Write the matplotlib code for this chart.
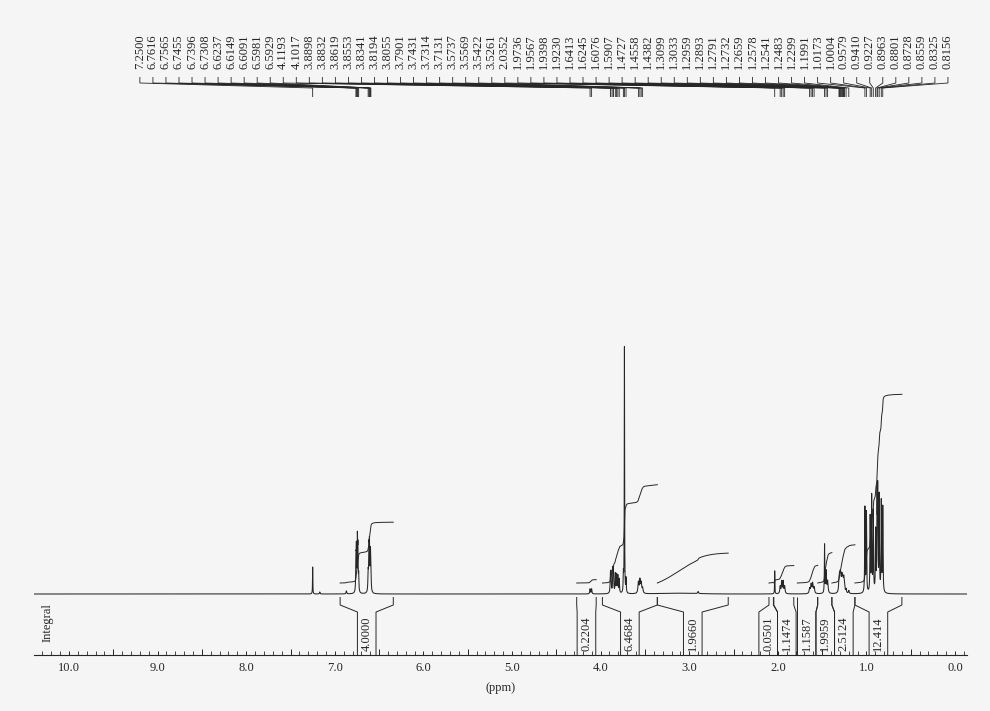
import numpy as np
import matplotlib
matplotlib.use("Agg")
import matplotlib.pyplot as plt
from matplotlib.collections import LineCollection
from matplotlib.ticker import MultipleLocator

plt.rcParams["font.family"] = ["Liberation Serif", "DejaVu Serif"]

# ---------------- 1H NMR line list (CDCl3) ----------------
# chemical shift (ppm), peak height (arb. units), half width at half height (ppm)
shift = [7.2500, 7.17, 6.87,
         6.7616, 6.7565, 6.7455, 6.7396, 6.7308,
         6.6237, 6.6149, 6.6091, 6.5981, 6.5929,
         4.1193, 4.1017,
         3.8898, 3.8832, 3.8619, 3.8553, 3.8341, 3.8194, 3.8055, 3.7901,
         3.7431, 3.7314, 3.7131,
         3.5737, 3.5569, 3.5422, 3.5261,
         2.90,
         2.0352, 1.9736, 1.9567, 1.9398, 1.9230,
         1.6413, 1.6245, 1.6076, 1.5907,
         1.4727, 1.4558, 1.4382,
         1.3099, 1.3033, 1.2959, 1.2893, 1.2791, 1.2732, 1.2659, 1.2578,
         1.2541, 1.2483, 1.2299, 1.1991,
         1.0173, 1.0004, 0.9579, 0.9410, 0.9227, 0.8963, 0.8801, 0.8728,
         0.8559, 0.8325, 0.8156]
height = [27, 2, 3,
          30, 40, 50, 40, 16,
          18, 38, 42, 36, 18,
          5, 5,
          17, 19, 22, 20, 19, 18, 17, 14,
          18, 246, 14,
          11, 13, 10, 5,
          2,
          23, 7, 12, 12, 7,
          5, 9, 10, 6,
          48, 22, 12,
          10, 12, 13, 12, 11, 10, 9, 8,
          7, 6, 4, 3,
          85, 80, 75, 95, 80, 60, 90, 95,
          95, 90, 85]
hwhm = [0.002, 0.004, 0.004,
        0.003, 0.003, 0.003, 0.003, 0.003,
        0.0035, 0.0035, 0.0035, 0.0035, 0.0035,
        0.004, 0.004,
        0.0035, 0.0035, 0.0035, 0.0035, 0.0035, 0.0035, 0.0035, 0.0035,
        0.003, 0.002, 0.003,
        0.006, 0.006, 0.006, 0.006,
        0.005,
        0.002, 0.005, 0.005, 0.005, 0.005,
        0.006, 0.006, 0.006, 0.006,
        0.0025, 0.005, 0.006,
        0.005, 0.005, 0.005, 0.005, 0.005, 0.005, 0.005, 0.005,
        0.005, 0.005, 0.005, 0.005,
        0.003, 0.003, 0.003, 0.003, 0.003, 0.003, 0.003, 0.003,
        0.003, 0.003, 0.003]

# broad exchangeable signal under 3.4-2.6 ppm
broad_center = 3.12
broad_sigma = 0.22
broad_height = 0.8

# peak-picking labels
pick_labels = ["7.2500", "6.7616", "6.7565", "6.7455", "6.7396", "6.7308",
               "6.6237", "6.6149", "6.6091", "6.5981", "6.5929", "4.1193",
               "4.1017", "3.8898", "3.8832", "3.8619", "3.8553", "3.8341",
               "3.8194", "3.8055", "3.7901", "3.7431", "3.7314", "3.7131",
               "3.5737", "3.5569", "3.5422", "3.5261", "2.0352", "1.9736",
               "1.9567", "1.9398", "1.9230", "1.6413", "1.6245", "1.6076",
               "1.5907", "1.4727", "1.4558", "1.4382", "1.3099", "1.3033",
               "1.2959", "1.2893", "1.2791", "1.2732", "1.2659", "1.2578",
               "1.2541", "1.2483", "1.2299", "1.1991", "1.0173", "1.0004",
               "0.9579", "0.9410", "0.9227", "0.8963", "0.8801", "0.8728",
               "0.8559", "0.8325", "0.8156"]

# integration regions (ppm) and values
int_start = [6.94, 4.27, 3.98, 3.36, 2.10, 2.045, 1.78, 1.55, 1.39, 1.13]
int_end = [6.34, 4.05, 3.36, 2.56, 2.05, 1.82, 1.55, 1.39, 1.13, 0.60]
int_value = [4.0000, 0.2204, 6.4684, 1.9660, 0.0501, 1.1474, 1.1587, 1.9959,
             2.5124, 12.414]
int_text = ["4.0000", "0.2204", "6.4684", "1.9660", "0.0501", "1.1474",
            "1.1587", "1.9959", "2.5124", "12.414"]

tick_values = [10.0, 9.0, 8.0, 7.0, 6.0, 5.0, 4.0, 3.0, 2.0, 1.0, 0.0]
tick_labels = ["10.0", "9.0", "8.0", "7.0", "6.0", "5.0", "4.0", "3.0",
               "2.0", "1.0", "0.0"]

# ---------------- drawing ----------------
BG = "#f5f5f5"
INK = "#262626"
FS = 9

fig = plt.figure(figsize=(9.9, 7.11), dpi=100, facecolor=BG)
ax = fig.add_axes([34 / 990, 1 - 655 / 711, (967 - 34) / 990, 655 / 711])
ax.set_facecolor(BG)
ax.set_xlim(10.395, -0.135)
ax.set_ylim(-61, 594)

# spectrum
ppm = np.linspace(10.395, -0.135, 60000)
spec = np.zeros_like(ppm)
for c, h, w in zip(shift, height, hwhm):
    spec += h / (1.0 + ((ppm - c) / w) ** 2)
spec += broad_height * np.exp(-0.5 * ((ppm - broad_center) / broad_sigma) ** 2)
ax.plot(ppm, spec, color=INK, lw=0.75, zorder=3)

# integral curves: cumulative area, scaled to the reported value
int_scale = 15.2
int_offset = 11.0
for a, b, v in zip(int_start, int_end, int_value):
    m = (ppm <= a) & (ppm >= b)
    x = ppm[m]
    cum = np.concatenate([[0.0], np.cumsum(0.5 * (spec[m][1:] + spec[m][:-1]))])
    cum = cum / cum[-1] * v * int_scale + int_offset
    ax.plot(x, cum, color=INK, lw=0.7, zorder=3)

# integral brackets with value boxes, boxes pushed apart where they collide
half_box = 0.105
centers = [(a + b) / 2 for a, b in zip(int_start, int_end)]
order = sorted(range(len(centers)), key=lambda k: -centers[k])
for _ in range(200):
    for j in range(len(order) - 1):
        p, q = order[j], order[j + 1]
        gap = centers[p] - centers[q]
        if gap < 2 * half_box:
            d = (2 * half_box - gap) / 2
            centers[p] += d
            centers[q] -= d

segs = []
for a, b, c in zip(int_start, int_end, centers):
    segs.append([(a, -3), (a, -11), (c + half_box, -18), (c + half_box, -61)])
    segs.append([(b, -3), (b, -11), (c - half_box, -18), (c - half_box, -61)])
ax.add_collection(LineCollection(segs, colors=INK, linewidths=0.7, zorder=3))
for c, t in zip(centers, int_text):
    ax.text(c, -40, t, rotation=90, ha="center", va="center", fontsize=FS,
            color=INK)
ax.text(10.24, -29, "Integral", rotation=90, ha="center", va="center",
        fontsize=FS, color=INK)

# peak-picking annotation along the top
slots = np.linspace(9.20, 0.08, len(pick_labels))
psegs = []
for s, lab in zip(slots, pick_labels):
    p = float(lab)
    psegs.append([(s, 517), (s, 511), (p, 506), (p, 497)])
    ax.text(s, 525, lab, rotation=90, ha="center", va="bottom", fontsize=FS,
            color=INK)
ax.add_collection(LineCollection(psegs, colors=INK, linewidths=0.6, zorder=3))

# axis
for side in ("left", "right", "top"):
    ax.spines[side].set_visible(False)
ax.spines["bottom"].set_color(INK)
ax.spines["bottom"].set_linewidth(0.8)
ax.set_yticks([])
ax.set_xticks(tick_values, tick_labels)
ax.xaxis.set_minor_locator(MultipleLocator(0.1))
ax.tick_params(axis="x", which="major", direction="in", length=3, width=0.7,
               color=INK, labelsize=FS, labelcolor=INK, pad=5)
ax.tick_params(axis="x", which="minor", direction="in", length=3, width=0.6,
               color=INK)
half_ticks = np.arange(9.5, 0, -1.0)
ax.vlines(half_ticks, -61, -55, color=INK, lw=0.7)
ax.set_xlabel("(ppm)", fontsize=FS, color=INK, labelpad=6)

fig.savefig("out.png", dpi=100, facecolor=BG)
